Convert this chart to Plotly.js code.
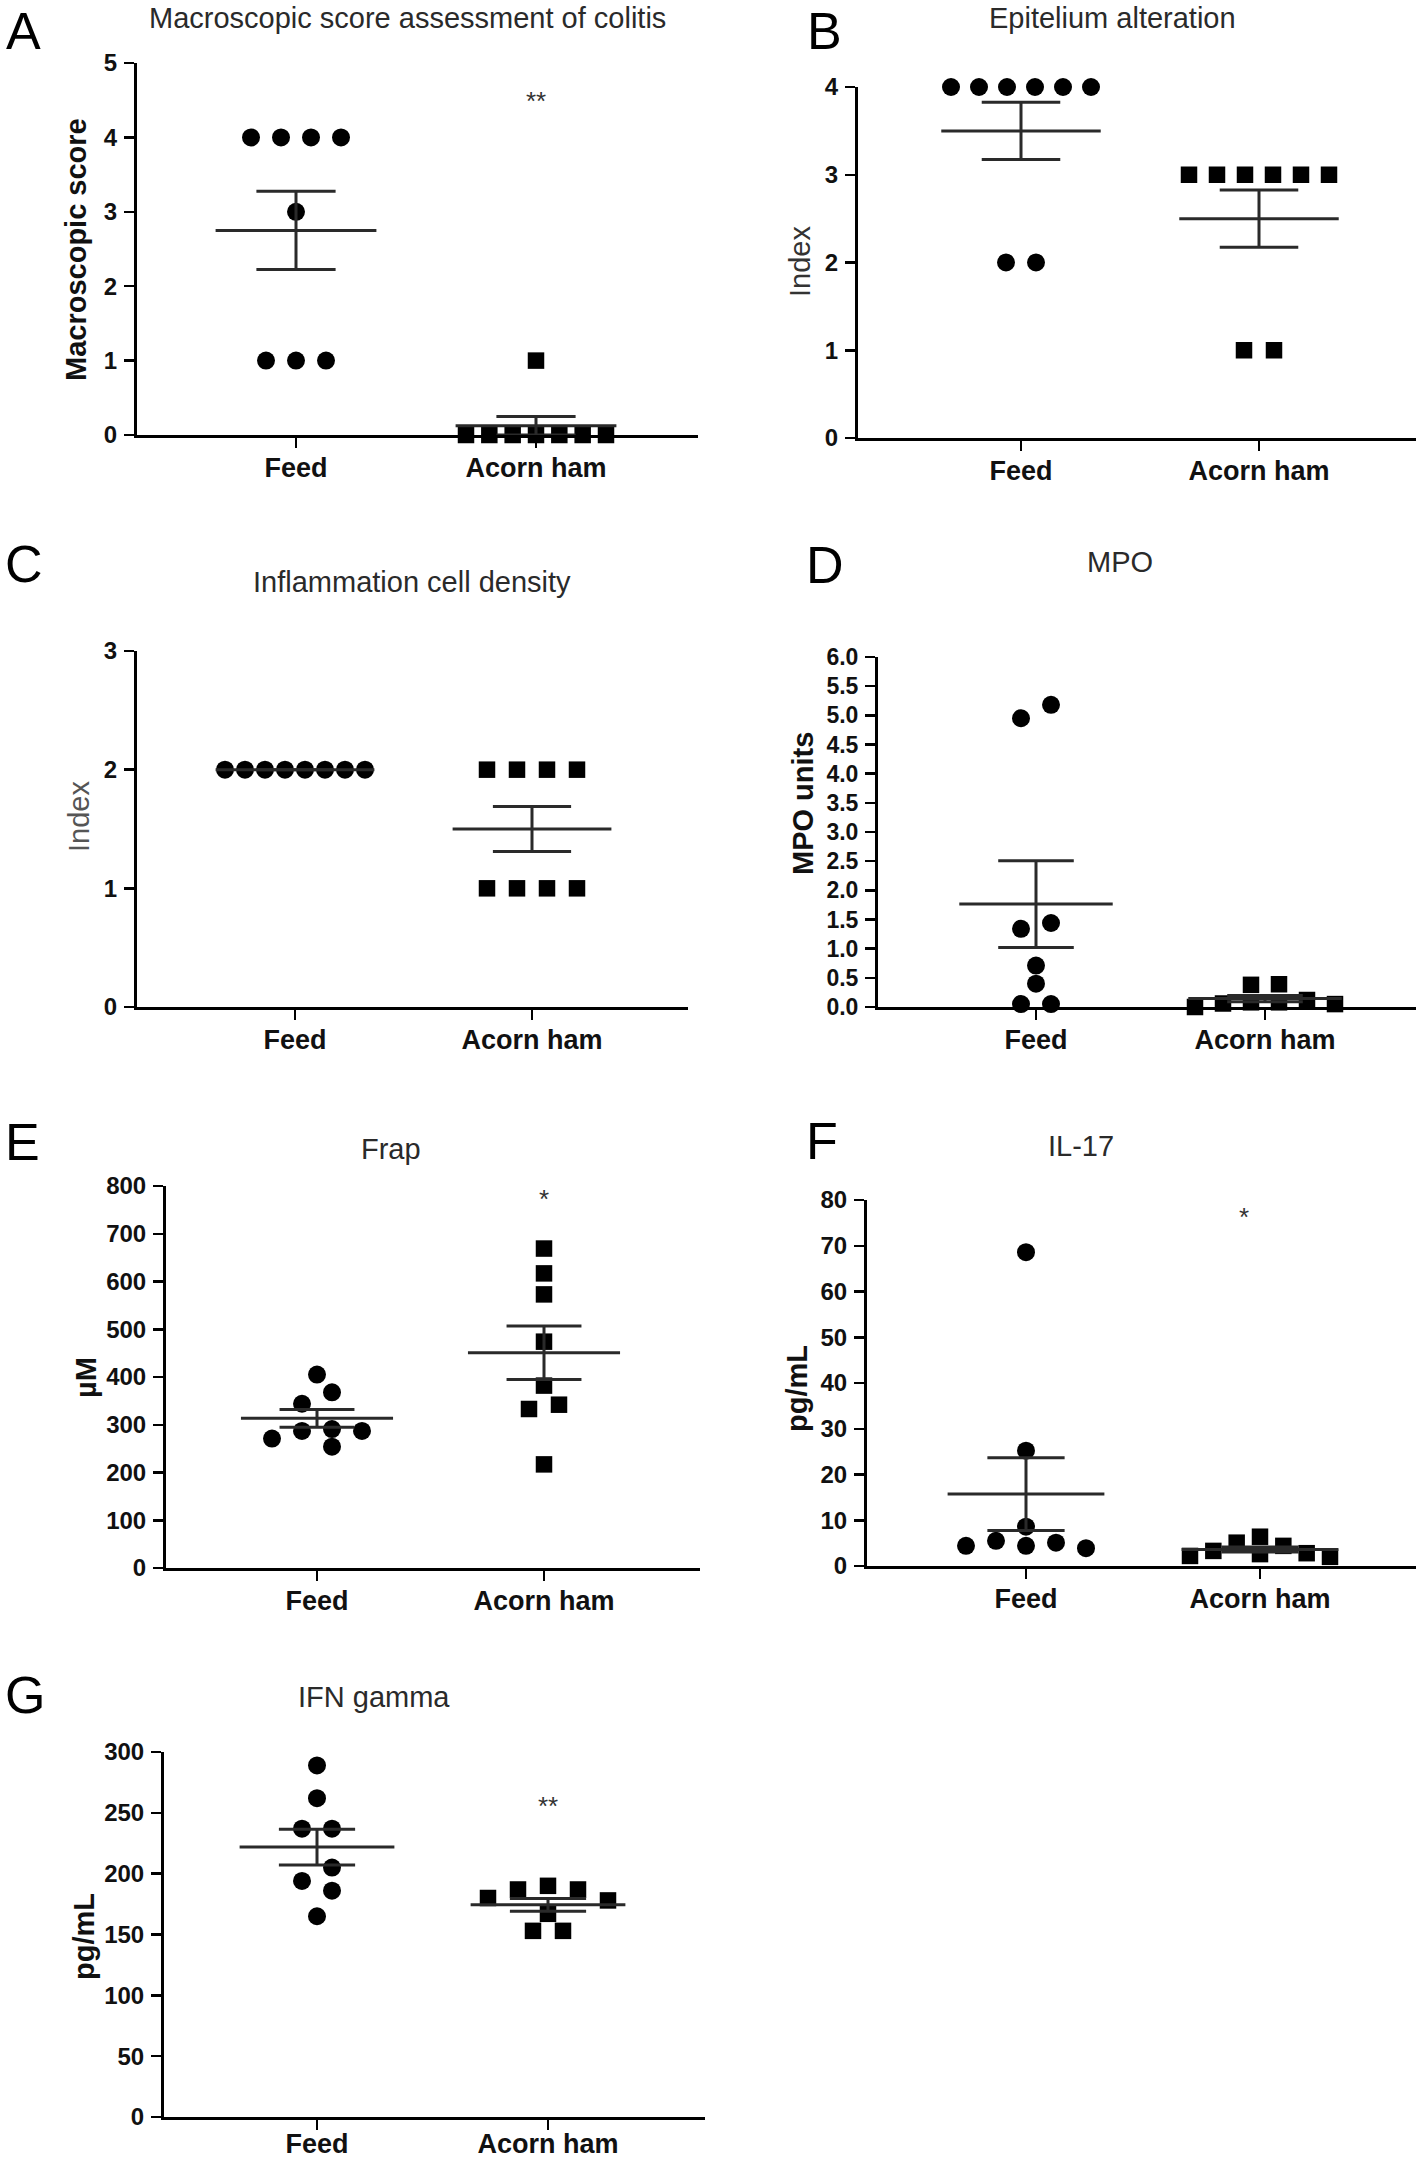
<!DOCTYPE html>
<html><head><meta charset="utf-8">
<script src="https://cdn.plot.ly/plotly-3.0.1.min.js"></script>
<style>html,body{margin:0;padding:0;background:#fff}#chart{width:1418px;height:2159px}</style>
</head><body><div id="chart"></div>
<script>
// ---------------- DATA ----------------
const groups = ["Feed", "Acorn ham"];

// A  Macroscopic score
const macroFeed  = [4, 4, 4, 4, 3, 1, 1, 1];
const macroAcorn = [1, 0, 0, 0, 0, 0, 0, 0];
// B  Epitelium alteration
const epiFeed  = [4, 4, 4, 4, 4, 4, 2, 2];
const epiAcorn = [3, 3, 3, 3, 3, 3, 1, 1];
// C  Inflammation cell density
const inflFeed  = [2, 2, 2, 2, 2, 2, 2, 2];
const inflAcorn = [2, 2, 2, 2, 1, 1, 1, 1];
// D  MPO units
const mpoFeed  = [5.18, 4.95, 1.44, 1.34, 0.71, 0.40, 0.05, 0.05];
const mpoAcorn = [0.39, 0.38, 0.12, 0.08, 0.08, 0.06, 0.05, 0.00];
// E  Frap (µM)
const frapFeed  = [405, 368, 344, 291, 287, 287, 271, 254];
const frapAcorn = [669, 617, 573, 474, 382, 342, 333, 217];
// F  IL-17 (pg/mL)
const il17Feed  = [68.6, 25.2, 8.6, 5.5, 5.1, 4.4, 4.4, 3.9];
const il17Acorn = [6.4, 5.1, 4.4, 3.3, 2.8, 2.6, 2.2, 2.0];
// G  IFN gamma (pg/mL)
const ifnFeed  = [289, 262, 237, 237, 205, 194, 186, 165];
const ifnAcorn = [190, 187, 187, 180, 178, 167, 153, 153];

const panelLetters = ["A", "B", "C", "D", "E", "F", "G"];
const panelTitles = ["Macroscopic score assessment of colitis", "Epitelium alteration",
  "Inflammation cell density", "MPO", "Frap", "IL-17", "IFN gamma"];
const yTitles = ["Macroscopic score", "Index", "Index", "MPO units", "µM", "pg/mL", "pg/mL"];
const yMax = [5, 4, 3, 6, 800, 80, 300];
const yStep = [1, 1, 1, 0.5, 100, 10, 50];
const sigLabels = ["**", "*", "*", "*", "*", "*", "**"];
const sigY = [4.6, 4.23, 3.03, 6.65, 790, 78, 262];

// ---------------- LAYOUT (pixels) ----------------
const W = 1418, H = 2159;
const FONT = "Arial, 'Liberation Sans', Helvetica, sans-serif";
const frames = [
  {yx:137, xend:698,  zero:435,  top:63,   fx:296,  ax:536,  title:[407,18],   letter:[23,31],   yt:[76,250],   tick:24, ytBold:true,  ytColor:"#111", sigX:1,    xso:-3},
  {yx:858, xend:1416, zero:438,  top:87,   fx:1021, ax:1259, title:[1112,18],  letter:[824,31],  yt:[800,262],  tick:24, ytBold:false, ytColor:"#333", sigX:1,    xso:-3},
  {yx:137, xend:688,  zero:1007, top:651,  fx:295,  ax:532,  title:[412,582],  letter:[24,564],  yt:[79,817],   tick:24, ytBold:false, ytColor:"#555", sigX:1,    xso:-3},
  {yx:878, xend:1416, zero:1007, top:657,  fx:1036, ax:1265, title:[1120,562], letter:[825,565], yt:[803,804],  tick:23, ytBold:true,  ytColor:"#111", sigX:1,    xso:-3},
  {yx:166, xend:700,  zero:1568, top:1186, fx:317,  ax:544,  title:[391,1149], letter:[22,1142], yt:[86,1378],  tick:24, ytBold:true,  ytColor:"#111", sigX:1,    xso:-3},
  {yx:867, xend:1416, zero:1566, top:1200, fx:1026, ax:1260, title:[1081,1146],letter:[822,1141],yt:[797,1389], tick:24, ytBold:true,  ytColor:"#111", sigX:0.93, xso:-3},
  {yx:164, xend:705,  zero:2117, top:1752, fx:317,  ax:548,  title:[374,1697], letter:[25,1695], yt:[84,1937],  tick:24, ytBold:true,  ytColor:"#111", sigX:1,    xso:-9}
];
const seriesFeed  = [macroFeed, epiFeed, inflFeed, mpoFeed, frapFeed, il17Feed, ifnFeed];
const seriesAcorn = [macroAcorn, epiAcorn, inflAcorn, mpoAcorn, frapAcorn, il17Acorn, ifnAcorn];

// ---------------- helpers ----------------
function mean(a){ return a.reduce((s,v)=>s+v,0)/a.length; }
function sem(a){ const m=mean(a); const v=a.reduce((s,x)=>s+(x-m)*(x-m),0)/(a.length-1); return Math.sqrt(v/a.length); }

// GraphPad-like column scatter layout (returns horizontal offsets in px)
function swarm(vals, pxPerUnit, S, Dv, Wmax){
  const n = vals.length;
  const order = vals.map((v,i)=>i).sort((a,b)=>vals[b]-vals[a]);
  const off = new Array(n).fill(0);
  const placed = [];
  const cand = [0];
  for (let j=1;j<60;j++){ cand.push(-j*S/2, j*S/2); }
  for (const i of order){
    const yi = vals[i]*pxPerUnit;
    for (const c of cand){
      let ok = true;
      for (const p of placed){
        if (Math.abs(yi - vals[p]*pxPerUnit) < Dv && Math.abs(c - off[p]) < S - 0.01){ ok=false; break; }
      }
      if (ok){ off[i]=c; break; }
    }
    placed.push(i);
  }
  const comp = new Array(n).fill(-1); let nc=0;
  for (let i=0;i<n;i++){
    if (comp[i]>=0) continue;
    const st=[i]; comp[i]=nc;
    while (st.length){
      const a=st.pop();
      for (let b=0;b<n;b++){
        if (comp[b]<0 && Math.abs(vals[a]-vals[b])*pxPerUnit < Dv){ comp[b]=nc; st.push(b); }
      }
    }
    nc++;
  }
  for (let c=0;c<nc;c++){
    const m=[]; for (let i=0;i<n;i++) if (comp[i]===c) m.push(i);
    const os=m.map(i=>off[i]);
    const mn=Math.min(...os), mx=Math.max(...os);
    const mid=(mn+mx)/2, w=mx-mn, sc = w>Wmax ? Wmax/w : 1;
    m.forEach(i=>{ off[i]=(off[i]-mid)*sc; });
  }
  return off;
}

const traces = [];
const layout = {
  width: W, height: H, margin:{l:0,r:0,t:0,b:0},
  paper_bgcolor:"#fff", plot_bgcolor:"#fff", showlegend:false,
  font:{family:FONT, color:"#000"},
  annotations: []
};
const LINE = "#2a2a2a";

frames.forEach((f, k) => {
  const sfx = k===0 ? "" : String(k+1);
  const xa = "x"+sfx, ya = "y"+sfx;
  const pxCat = f.ax - f.fx;
  const pxUnit = (f.zero - f.top)/yMax[k];
  const grpData = [seriesFeed[k], seriesAcorn[k]];

  grpData.forEach((vals, g) => {
    const off = swarm(vals, pxUnit, 30, 17, 140);
    traces.push({
      type:"scatter", mode:"markers", xaxis:xa, yaxis:ya, cliponaxis:false, hoverinfo:"skip",
      x: vals.map((v,i)=> g + off[i]/pxCat), y: vals,
      marker:{symbol: g===0 ? "circle" : "square", size: g===0 ? 18 : 16.5, color:"#000", line:{width:0}}
    });
  });
  grpData.forEach((vals, g) => {
    const m = mean(vals), s = sem(vals);
    traces.push({
      type:"scatter", mode:"lines", xaxis:xa, yaxis:ya, cliponaxis:false, hoverinfo:"skip",
      x:[g-0.335, g+0.335], y:[m, m], line:{color:LINE, width:3}
    });
    traces.push({
      type:"scatter", mode:"markers", xaxis:xa, yaxis:ya, cliponaxis:false, hoverinfo:"skip",
      x:[g], y:[m], marker:{size:1, opacity:0},
      error_y:{type:"data", symmetric:false, array:[s], arrayminus:[s], width:0.165*pxCat, thickness:3, color:LINE}
    });
  });

  layout["xaxis"+sfx] = {
    domain:[f.yx/W, f.xend/W], anchor:ya,
    range:[(f.yx-f.fx)/pxCat, (f.xend-f.fx)/pxCat],
    showline:true, linecolor:"#000", linewidth:3, mirror:false,
    ticks:"outside", ticklen:10, tickwidth:2.5, tickcolor:"#000",
    tickvals:[0,1], ticktext:groups, ticklabelstandoff:f.xso,
    tickfont:{family:FONT, size:27, color:"#111", weight:700},
    showgrid:false, zeroline:false, fixedrange:true
  };
  layout["yaxis"+sfx] = {
    domain:[1-f.zero/H, 1-f.top/H], anchor:xa,
    range:[0, yMax[k]], tick0:0, dtick:yStep[k], tickformat: yStep[k]<1 ? ".1f" : "d",
    showline:true, linecolor:"#000", linewidth:3,
    ticks:"outside", ticklen:10, tickwidth:2.5, tickcolor:"#000", ticklabelstandoff:2,
    tickfont:{family:FONT, size:f.tick, color:"#111", weight:700},
    showgrid:false, zeroline:false, fixedrange:true
  };

  const A = layout.annotations;
  A.push({xref:"paper", yref:"paper", x:f.letter[0]/W, y:1-f.letter[1]/H, xanchor:"center", yanchor:"middle",
    text:panelLetters[k], showarrow:false, borderpad:0, font:{family:FONT, size:52, color:"#000"}});
  A.push({xref:"paper", yref:"paper", x:f.title[0]/W, y:1-f.title[1]/H, xanchor:"center", yanchor:"middle",
    text:panelTitles[k], showarrow:false, borderpad:0, font:{family:FONT, size:29, color:"#2a2a2a"}});
  A.push({xref:"paper", yref:"paper", x:f.yt[0]/W, y:1-f.yt[1]/H, xanchor:"center", yanchor:"middle",
    text:yTitles[k], textangle:-90, showarrow:false,
    font:{family:FONT, size:29, color:f.ytColor, weight: f.ytBold ? 700 : 400}});
  A.push({xref:xa, yref:ya, x:f.sigX, y:sigY[k], xanchor:"center", yanchor:"middle", yshift:-8,
    text:sigLabels[k], showarrow:false, font:{family:FONT, size:26, color:"#333"}});
});

Plotly.newPlot("chart", traces, layout, {staticPlot:true, displayModeBar:false});
</script>
</body></html>
